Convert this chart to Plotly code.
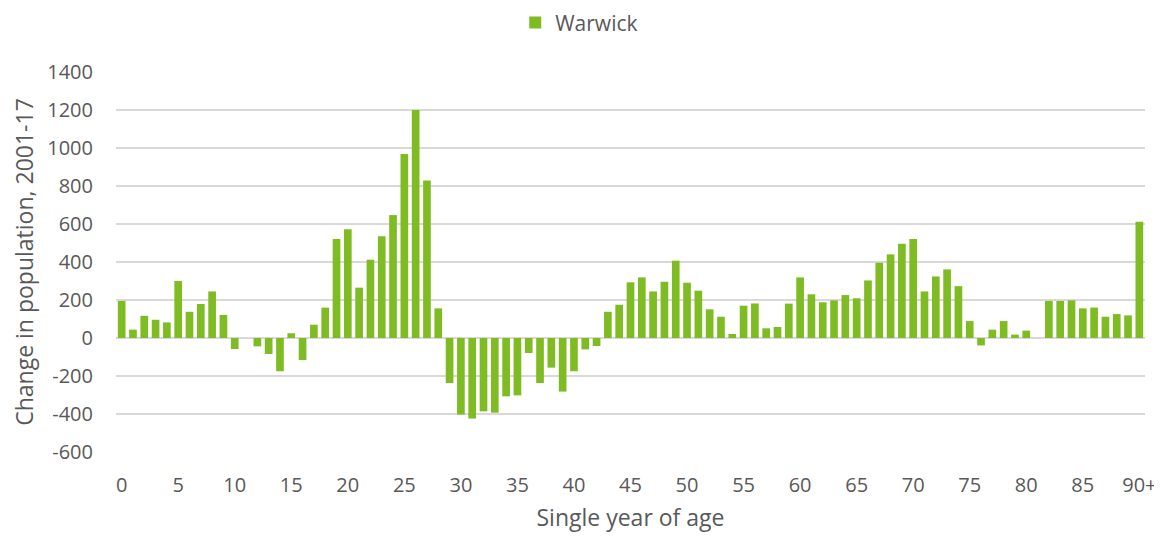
import plotly.graph_objects as go

ages = [str(i) for i in range(90)] + ["90+"]
warwick = [195, 44, 117, 96, 82, 300, 138, 179, 245, 121,
           -58, 0, -44, -84, -175, 25, -116, 70, 160, 521,
           573, 265, 412, 536, 647, 968, 1200, 829, 156, -237,
           -403, -424, -386, -393, -307, -302, -79, -237, -156, -282,
           -175, -60, -42, 138, 175, 293, 319, 245, 296, 407,
           291, 249, 151, 112, 21, 170, 182, 51, 58, 181,
           319, 230, 188, 198, 226, 209, 303, 396, 440, 496,
           521, 245, 324, 361, 273, 89, -39, 44, 89, 18,
           39, 0, 195, 195, 198, 156, 160, 112, 126, 119,
           612]
tick_labels = ["0", "5", "10", "15", "20", "25", "30", "35", "40", "45",
               "50", "55", "60", "65", "70", "75", "80", "85", "90+"]
y_ticks = [-600, -400, -200, 0, 200, 400, 600, 800, 1000, 1200, 1400]
y_tick_text = [str(v) for v in y_ticks]

font_fam = "Open Sans, Liberation Sans, sans-serif"
grey = "#595959"

fig = go.Figure()
fig.add_trace(go.Bar(
    x=ages, y=warwick, name="Warwick",
    marker=dict(color="#7FBC24", line=dict(width=0)),
))

fig.update_layout(
    width=1154, height=530,
    margin=dict(l=108, r=17, t=64, b=86),
    plot_bgcolor="white", paper_bgcolor="white",
    bargap=0.32,
    showlegend=True,
    legend=dict(orientation="h", x=0.495, xanchor="center", xref="container",
                y=0.972, yanchor="middle", yref="container", itemwidth=30,
                font=dict(family=font_fam, size=21, color=grey)),
    font=dict(family=font_fam, size=20, color=grey),
    xaxis=dict(
        type="category", automargin=False,
        tickmode="array", tickvals=tick_labels, ticktext=tick_labels,
        showgrid=False, showline=False, ticks="",
        tickfont=dict(size=20, color=grey),
        ticklabelstandoff=19,
        title=dict(text="Single year of age", font=dict(size=23, color=grey), standoff=12),
    ),
    yaxis=dict(
        range=[-600, 1400], automargin=False,
        tickmode="array", tickvals=y_ticks, ticktext=y_tick_text,
        showgrid=True, gridcolor="#D9D9D9", gridwidth=1.5,
        zeroline=True, zerolinecolor="#D9D9D9", zerolinewidth=1.5,
        tickfont=dict(size=20, color=grey),
        ticklabelstandoff=22,
        title=dict(text="Change in population, 2001-17", font=dict(size=23, color=grey), standoff=14),
    ),
)

fig.write_html("out.html")
